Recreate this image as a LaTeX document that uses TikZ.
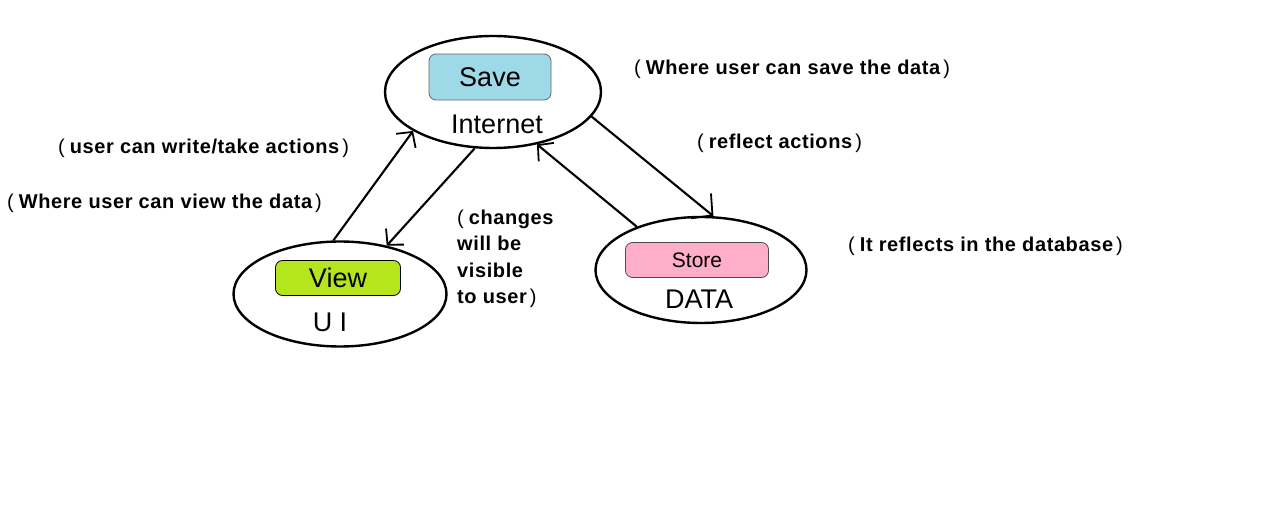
\documentclass[tikz,border=0pt]{standalone}
\usepackage{fontspec}
\setmainfont{Liberation Sans}
\newfontfamily\notefont[LetterSpace=3]{Liberation Sans}
\usetikzlibrary{shapes.geometric,arrows.meta}
\definecolor{saveblue}{HTML}{9ED9E8}
\definecolor{viewgreen}{HTML}{B5E61D}
\definecolor{storepink}{HTML}{FFAEC9}
\begin{document}
\begin{tikzpicture}[x=1pt,y=-1pt,
  oval/.style={ellipse, draw, line width=2.4pt, inner sep=0pt},
  tagbox/.style={rounded corners=7pt, line width=0.8pt, inner sep=0pt},
  big/.style={font=\fontsize{27}{32}\selectfont},
  note/.style={font=\notefont\fontsize{20}{26.3}\selectfont\bfseries, inner sep=0pt, align=left},
  flow/.style={line width=2.1pt, -{Straight Barb[length=11pt,width=24pt,line width=1.8pt]}}
]
\useasboundingbox[fill=white] (0,0) rectangle (1280,529);

% ovals
\node[oval, minimum width=216, minimum height=112] (inet) at (493,92) {};
\node[oval, minimum width=213, minimum height=105] (ui) at (340,294) {};
\node[oval, minimum width=211, minimum height=106] (data) at (701,270) {};

% inner boxes
\node[tagbox, draw=black!60, fill=saveblue, minimum width=122, minimum height=46, big] (save) at (490,77) {Save};
\node[tagbox, draw=black, fill=viewgreen, minimum width=125, minimum height=35, big] (view) at (338,278) {View};
\node[tagbox, draw=black!70, fill=storepink, minimum width=143, minimum height=35, font=\fontsize{21}{25}\selectfont] (store) at (697,260) {Store};

% oval titles
\node[big] (tinet) at (497,124) {Internet};
\node[big] (tui) at (330,322) {U I};
\node[big] (tdata) at (699,299) {DATA};

% connectors
\draw[flow] (ui.97) -- (inet.206);
\draw[flow] (inet.252) -- (ui.46);
\draw[flow] (data.146) -- (inet.310);
\draw[flow, -{Straight Barb[length=15pt,width=32pt,line width=1.8pt]}] (inet.346) -- (data.77);

% notes
\node[note, anchor=west] (n1) at (634,69) {\mdseries(\hspace{5pt}\bfseries Where user can save the data\mdseries\hspace{3pt})};
\node[note, anchor=west] (n2) at (697,143) {\mdseries(\hspace{5pt}\bfseries reflect actions\mdseries\hspace{3pt})};
\node[note, anchor=west] (n3) at (58,148) {\mdseries(\hspace{5pt}\bfseries user can write/take actions\mdseries\hspace{3pt})};
\node[note, anchor=west] (n4) at (7,203) {\mdseries(\hspace{5pt}\bfseries Where user can view the data\mdseries\hspace{3pt})};
\node[note, anchor=north west] (n5) at (457,210) {\mdseries(\hspace{5pt}\bfseries changes\\will be\\visible\\to user\mdseries\hspace{3pt})};
\node[note, anchor=west] (n6) at (848,246) {\mdseries(\hspace{5pt}\bfseries It reflects in the database\mdseries\hspace{3pt})};
\end{tikzpicture}
\end{document}
